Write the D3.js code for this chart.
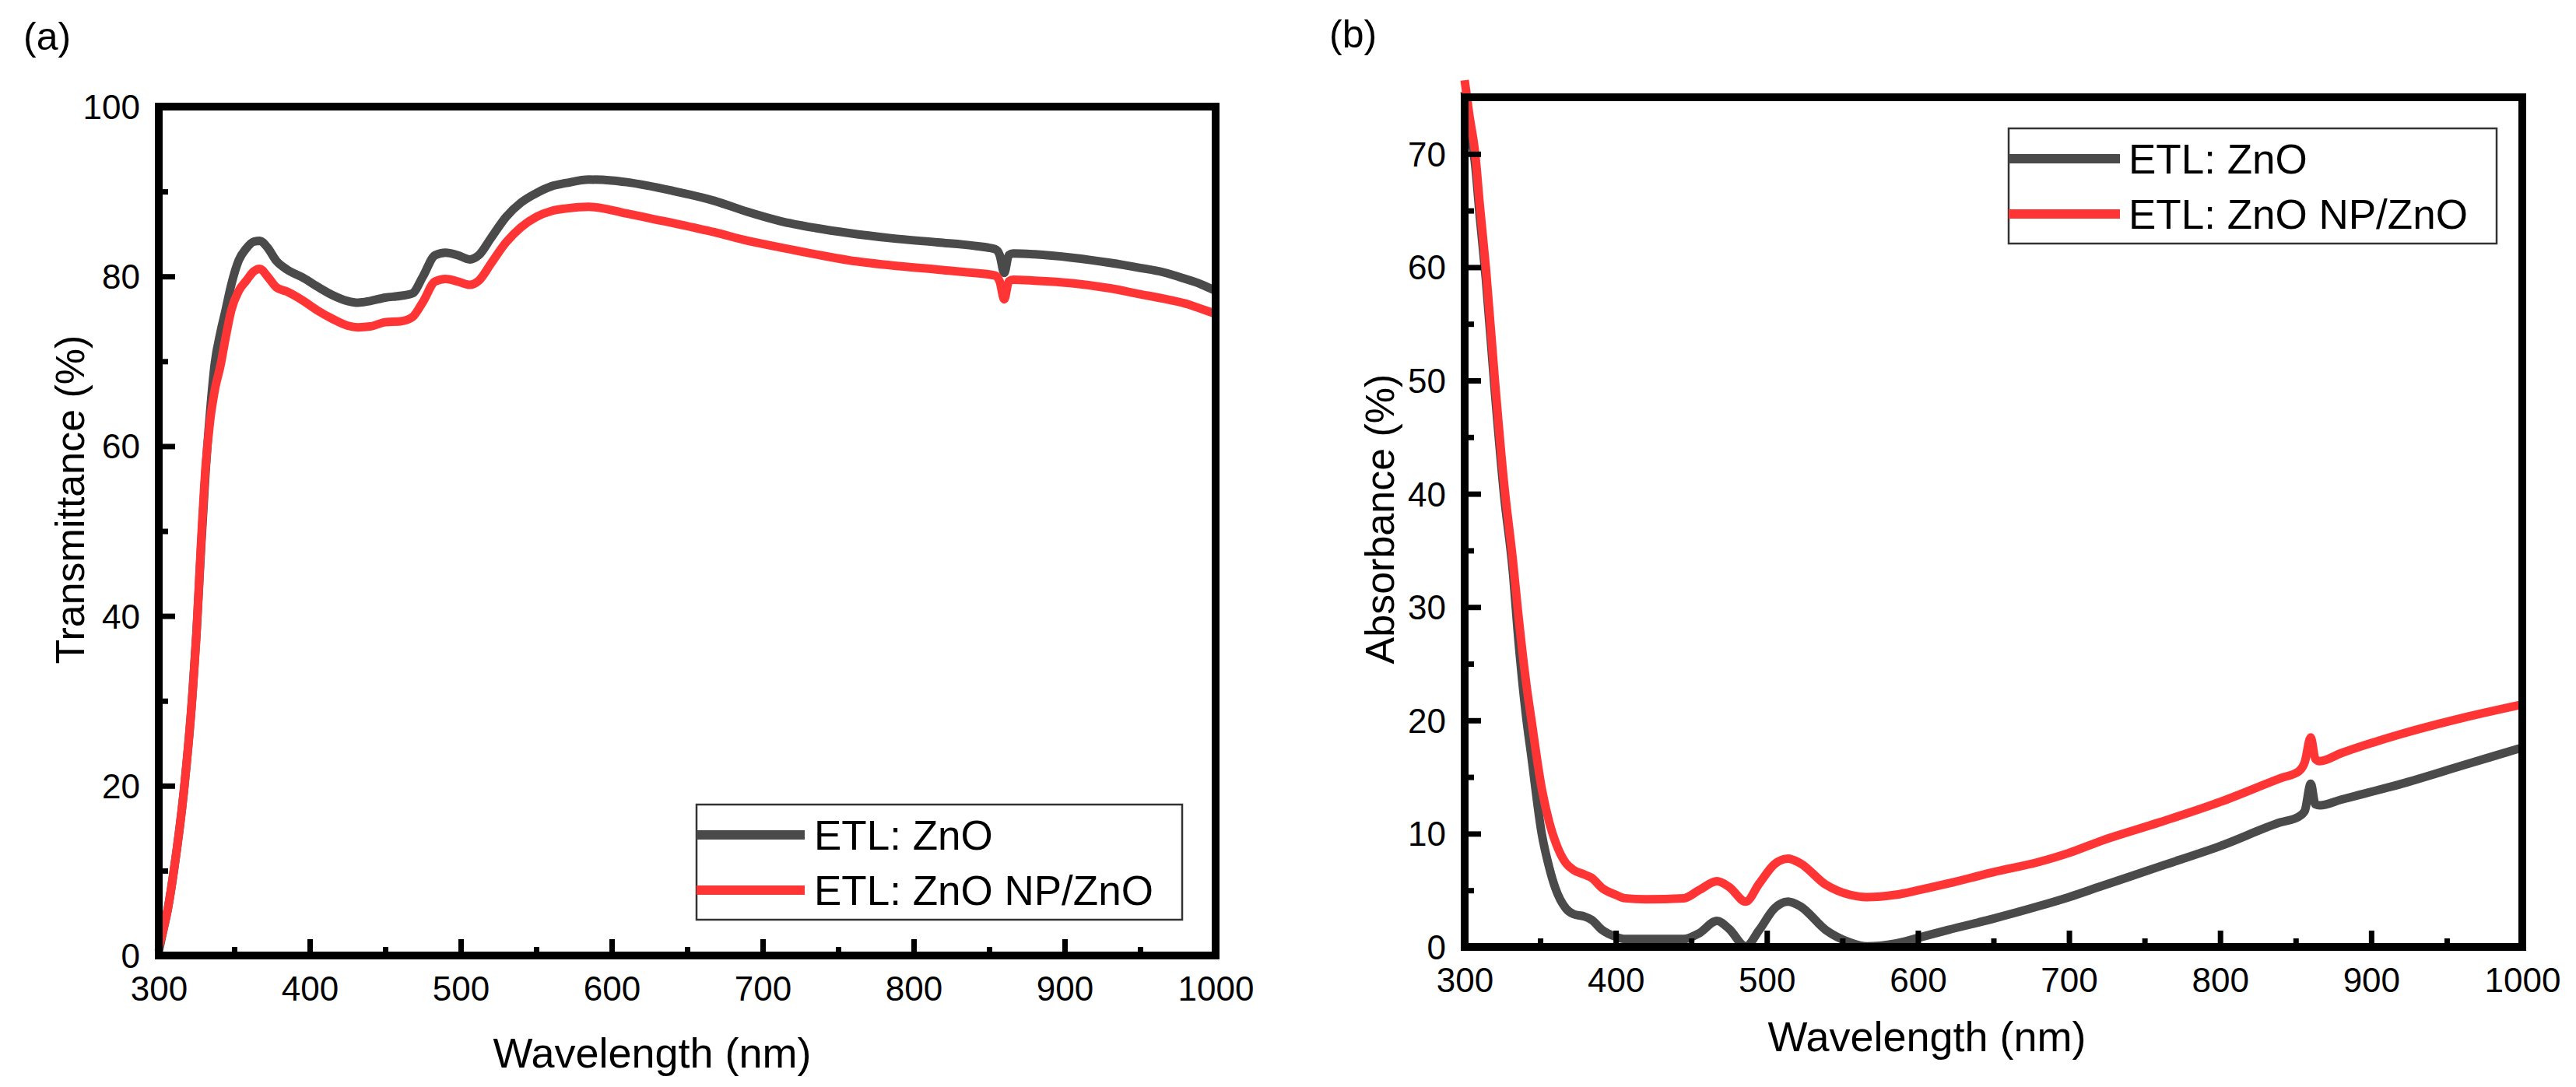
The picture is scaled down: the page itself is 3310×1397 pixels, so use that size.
<!DOCTYPE html>
<html>
<head>
<meta charset="utf-8">
<script src="https://cdn.jsdelivr.net/npm/d3@7"></script>
<style>
  body { margin: 0; background: #fff; }
  text { font-family: "Liberation Sans", Arial, sans-serif; fill: #000; }
</style>
</head>
<body>
<div id="chart"></div>
<script>
// ---- data ----
const seriesNames = ["ETL: ZnO", "ETL: ZnO NP/ZnO"];
const seriesColors = ["#4a4a4a", "#ff3535"];

const xMajorTicks = [300, 400, 500, 600, 700, 800, 900, 1000];
const xMinorTicks = [350, 450, 550, 650, 750, 850, 950];

// (a) transmittance
const wavelengthA = [300, 303, 306, 310, 317, 322, 325, 328, 331, 334, 337, 341, 344, 348, 353, 358, 363, 367, 372, 378,
  385, 395, 405, 415, 425, 432, 440, 450, 460, 468, 475, 483, 490, 498, 506, 512, 520, 530, 540, 550,
  560, 570, 585, 600, 610, 640, 668, 690, 712, 735, 757, 785, 816, 840, 854, 857, 860, 863, 866, 880,
  905, 930, 950, 965, 980, 990, 1000];
const transZnO = [0.5, 3, 5.5, 10, 20, 30, 38, 48, 57, 64, 69.6, 73.5, 75.8, 79, 81.9, 83.3, 84.1, 84.2, 83.4, 81.8,
  80.8, 79.9, 78.8, 77.8, 77.1, 76.9, 77.1, 77.5, 77.7, 78, 80, 82.5, 82.8, 82.5, 82.0, 82.5, 84.5, 87, 88.7, 89.8,
  90.6, 91.0, 91.4, 91.3, 91.1, 90.1, 88.9, 87.6, 86.5, 85.7, 85.1, 84.5, 84.0, 83.6, 83.2, 82.5, 80.4, 82.5, 82.7, 82.6,
  82.2, 81.6, 81.0, 80.5, 79.7, 79.1, 78.3];
const transNP = [1, 3, 5.5, 10, 20, 30, 38, 48.5, 57.5, 63, 66.5, 69.6, 72.5, 76, 78.3, 79.5, 80.6, 80.9, 80, 78.7,
  78.2, 77.2, 76, 75, 74.2, 74, 74.1, 74.6, 74.7, 75.2, 77, 79.4, 79.7, 79.4, 79.0, 79.5, 81.5, 84, 85.8, 87,
  87.7, 88, 88.2, 87.8, 87.4, 86.3, 85.2, 84.2, 83.4, 82.6, 81.9, 81.3, 80.8, 80.4, 80.1, 79.4, 77.3, 79.4, 79.6, 79.5,
  79.2, 78.6, 77.9, 77.4, 76.8, 76.2, 75.6];
const yMajorA = [0, 20, 40, 60, 80, 100];
const yMinorA = [10, 30, 50, 70, 90];

// (b) absorbance
const wavelengthB = [300, 303, 307, 310, 314, 320, 326, 332, 335, 341, 344, 351, 356, 360, 367, 372, 379, 384, 391, 400,
  406, 420, 445, 455, 467, 475, 486, 495, 505, 514, 522, 539, 555, 566, 585, 600, 620, 650, 680, 700,
  720, 760, 800, 840, 852, 856, 860, 863, 866, 880, 920, 960, 1000];
const absZnO = [75.5, 72.5, 69, 64.5, 59, 49, 40, 33, 28, 20, 17, 10, 7, 5.2, 3.4, 2.9, 2.7, 2.4, 1.5, 0.9,
  0.7, 0.7, 0.7, 1.2, 2.3, 1.6, 0.05, 1.5, 3.4, 4.0, 3.6, 1.5, 0.4, 0.05, 0.3, 0.8, 1.5, 2.5, 3.6, 4.4,
  5.3, 7.1, 8.9, 11.0, 11.5, 12.0, 14.4, 12.6, 12.5, 13.0, 14.4, 16.0, 17.6];
const absNP = [76.5, 73.5, 70, 65.5, 60, 50, 41, 34, 30, 23, 20.2, 14, 11, 9.3, 7.4, 6.8, 6.4, 6.1, 5.2, 4.6,
  4.3, 4.2, 4.3, 5.0, 5.8, 5.3, 4.0, 5.6, 7.3, 7.8, 7.4, 5.5, 4.6, 4.4, 4.6, 5.0, 5.6, 6.6, 7.5, 8.3,
  9.3, 11.0, 12.8, 14.9, 15.5, 16.3, 18.5, 16.6, 16.4, 17.1, 18.8, 20.2, 21.4];
const yMajorB = [0, 10, 20, 30, 40, 50, 60, 70];
const yMinorB = [5, 15, 25, 35, 45, 55, 65, 75];

// ---- layout ----
const width = 3310, height = 1397;

const svg = d3.select("#chart").append("svg")
  .attr("width", width)
  .attr("height", height);

const panels = [
  {
    tag: "(a)", tagX: 30, tagY: 64,
    left: 204, right: 1562, top: 137, bottom: 1228,
    yDomain: [0, 100], yMajor: yMajorA, yMinor: yMinorA,
    x: wavelengthA, ys: [transZnO, transNP],
    yTitle: "Transmittance (%)", yTitleX: 108, yTitleY: 642,
    xTitleX: 838, xTitleY: 1372,
    legend: { x: 895, y: 1034, w: 624, h: 148, sample: 139, rows: [1073, 1144], textX: 1046 }
  },
  {
    tag: "(b)", tagX: 1708, tagY: 61,
    left: 1882, right: 3241, top: 125, bottom: 1217,
    yDomain: [0, 75], yMajor: yMajorB, yMinor: yMinorB,
    x: wavelengthB, ys: [absZnO, absNP],
    yTitle: "Absorbance (%)", yTitleX: 1791, yTitleY: 667,
    xTitleX: 2476, xTitleY: 1351,
    legend: { x: 2581, y: 165, w: 627, h: 148, sample: 143, rows: [204, 275], textX: 2735 }
  }
];

panels.forEach(drawPanel);

function drawPanel(p) {
  const xScale = d3.scaleLinear().domain([300, 1000]).range([p.left, p.right]);
  const yScale = d3.scaleLinear().domain(p.yDomain).range([p.bottom, p.top]);

  svg.append("text")
    .attr("x", p.tagX)
    .attr("y", p.tagY)
    .style("font-size", "50px")
    .text(p.tag);

  // curves (gray first, red on top)
  const line = d3.line()
    .x(d => xScale(d[0]))
    .y(d => yScale(d[1]))
    .curve(d3.curveMonotoneX);

  p.ys.forEach((vals, i) => {
    svg.append("path")
      .datum(p.x.map((w, k) => [w, vals[k]]))
      .attr("d", line)
      .attr("fill", "none")
      .attr("stroke", seriesColors[i])
      .attr("stroke-width", 11)
      .attr("stroke-linejoin", "round");
  });

  // minor ticks
  svg.append("g")
    .attr("transform", `translate(0,${p.bottom})`)
    .call(d3.axisBottom(xScale).tickValues(xMinorTicks).tickSize(-11).tickFormat(""))
    .call(g => g.select(".domain").remove())
    .selectAll("line").attr("stroke", "#000").attr("stroke-width", 7);

  svg.append("g")
    .attr("transform", `translate(${p.left},0)`)
    .call(d3.axisLeft(yScale).tickValues(p.yMinor.filter(v => v < p.yDomain[1])).tickSize(-12).tickFormat(""))
    .call(g => g.select(".domain").remove())
    .selectAll("line").attr("stroke", "#000").attr("stroke-width", 7);

  // major ticks + labels
  const xAxis = svg.append("g")
    .attr("transform", `translate(0,${p.bottom})`)
    .call(d3.axisBottom(xScale).tickValues(xMajorTicks).tickSize(-21).tickFormat(d3.format("d")));
  xAxis.select(".domain").remove();
  xAxis.selectAll("line").attr("stroke", "#000").attr("stroke-width", 7);
  xAxis.selectAll("text")
    .attr("y", 58).attr("dy", null)
    .style("font-size", "44px")
    .attr("font-family", null);

  const yAxis = svg.append("g")
    .attr("transform", `translate(${p.left},0)`)
    .call(d3.axisLeft(yScale).tickValues(p.yMajor).tickSize(-21).tickFormat(d3.format("d")));
  yAxis.select(".domain").remove();
  yAxis.selectAll("line").attr("stroke", "#000").attr("stroke-width", 7);
  yAxis.selectAll("text")
    .attr("x", -24).attr("dy", "0.35em")
    .style("font-size", "44px")
    .attr("font-family", null);

  // frame
  svg.append("rect")
    .attr("x", p.left).attr("y", p.top)
    .attr("width", p.right - p.left).attr("height", p.bottom - p.top)
    .attr("fill", "none").attr("stroke", "#000").attr("stroke-width", 10);

  // axis titles
  svg.append("text")
    .attr("x", p.xTitleX).attr("y", p.xTitleY)
    .attr("text-anchor", "middle")
    .style("font-size", "54px")
    .text("Wavelength (nm)");

  svg.append("text")
    .attr("transform", `translate(${p.yTitleX},${p.yTitleY}) rotate(-90)`)
    .attr("text-anchor", "middle")
    .style("font-size", "52px")
    .text(p.yTitle);

  // legend
  const lg = p.legend;
  svg.append("rect")
    .attr("x", lg.x).attr("y", lg.y)
    .attr("width", lg.w).attr("height", lg.h)
    .attr("fill", "#fff").attr("stroke", "#333").attr("stroke-width", 2.5);

  seriesNames.forEach((name, i) => {
    svg.append("line")
      .attr("x1", lg.x).attr("x2", lg.x + lg.sample)
      .attr("y1", lg.rows[i]).attr("y2", lg.rows[i])
      .attr("stroke", seriesColors[i]).attr("stroke-width", 12);
    svg.append("text")
      .attr("x", lg.textX).attr("y", lg.rows[i] + 19)
      .style("font-size", "53px")
      .text(name);
  });
}
</script>
</body>
</html>
